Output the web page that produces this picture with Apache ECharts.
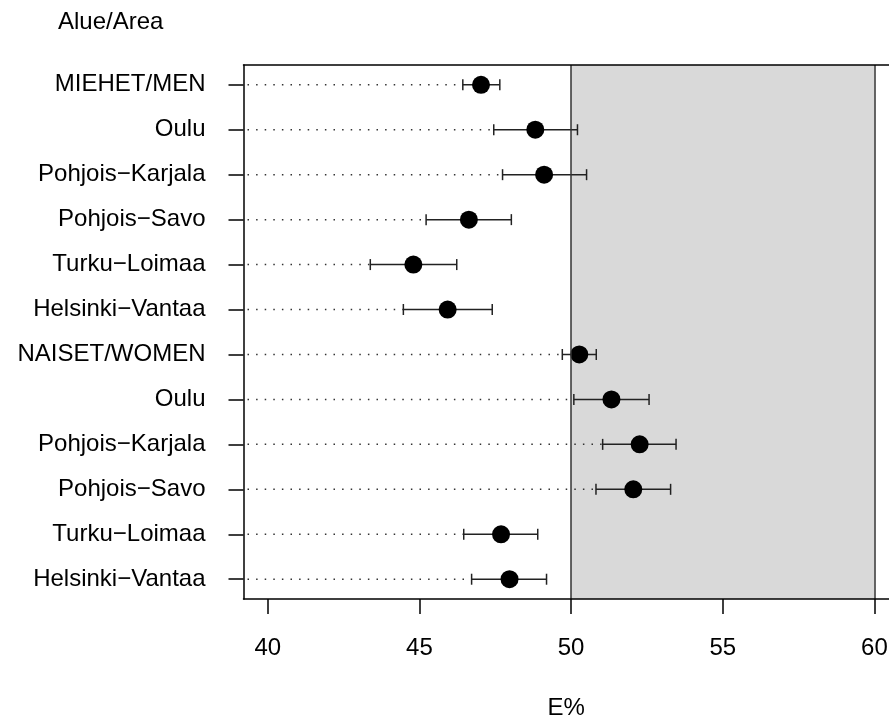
<!DOCTYPE html>
<html>
<head>
<meta charset="utf-8">
<script src="https://cdn.jsdelivr.net/npm/echarts@6/dist/echarts.min.js"></script>
<style>
  html, body { margin: 0; padding: 0; background: #fff; }
  #chart { width: 889px; height: 717px; }
</style>
</head>
<body>
<div id="chart"></div>
<script>
// ---- data ----
const labels = ["MIEHET/MEN", "Oulu", "Pohjois\u2212Karjala", "Pohjois\u2212Savo", "Turku\u2212Loimaa", "Helsinki\u2212Vantaa",
                "NAISET/WOMEN", "Oulu", "Pohjois\u2212Karjala", "Pohjois\u2212Savo", "Turku\u2212Loimaa", "Helsinki\u2212Vantaa"];
const estimate = [47.03, 48.82, 49.11, 46.63, 44.80, 45.93, 50.27, 51.33, 52.26, 52.05, 47.69, 47.97];
const lower    = [46.43, 47.45, 47.74, 45.22, 43.38, 44.47, 49.71, 50.09, 51.04, 50.82, 46.46, 46.72];
const upper    = [47.65, 50.21, 50.51, 48.03, 46.23, 47.40, 50.83, 52.57, 53.46, 53.28, 48.90, 49.19];
const xTicks = [40, 45, 50, 55, 60];
const refBand = [50, 60];
const xRange = [39.2, 60.48];   // visible part of the x range (plot box runs past the right edge)
const yRange = [0.56, 12.44];
const rows = labels.map((_, i) => i + 1);

const FONT = "'Liberation Sans', Arial, Helvetica, sans-serif";

const chart = echarts.init(document.getElementById('chart'), null, { renderer: 'canvas' });

const dottedData = rows.map((r, i) => [xRange[0], lower[i], r]);
const errData = rows.map((r, i) => [lower[i], upper[i], r]);
const pointData = rows.map((r, i) => [estimate[i], r]);

const option = {
  animation: false,
  backgroundColor: '#ffffff',
  textStyle: { fontFamily: FONT },
  title: {
    text: 'Alue/Area',
    left: 58, top: 10, padding: 0,
    textStyle: { fontFamily: FONT, fontSize: 24, fontWeight: 'normal', color: '#000' }
  },
  grid: { left: 243.5, top: 65, right: 0, height: 534, containLabel: false, outerBoundsMode: 'none' },
  xAxis: [{
    type: 'value', min: xRange[0], max: xRange[1], z: 5,
    axisLine: { show: true, lineStyle: { color: '#000', width: 1.5 } },
    axisTick: { show: true, length: 15, customValues: xTicks, lineStyle: { color: '#000', width: 1.5 } },
    axisLabel: { show: true, customValues: xTicks, margin: 37, fontSize: 24, color: '#000', fontFamily: FONT, showMaxLabel: true },
    splitLine: { show: false },
    name: 'E%', nameLocation: 'middle', nameGap: 97,
    nameTextStyle: { fontSize: 24, color: '#000', fontFamily: FONT, padding: [0, 0, 0, 0] }
  }, {
    type: 'value', position: 'top', min: xRange[0], max: xRange[1], z: 5,
    axisLine: { show: true, onZero: false, lineStyle: { color: '#000', width: 1.5 } },
    axisTick: { show: false }, axisLabel: { show: false }, splitLine: { show: false }
  }],
  yAxis: [{
    type: 'value', inverse: true, min: yRange[0], max: yRange[1], z: 5,
    axisLine: { show: true, onZero: false, lineStyle: { color: '#000', width: 1.5 } },
    axisTick: { show: true, length: 15, customValues: rows, lineStyle: { color: '#000', width: 1.5 } },
    axisLabel: {
      show: true, customValues: rows, margin: 38, fontSize: 24, color: '#000', fontFamily: FONT,
      formatter: v => labels[Math.round(v) - 1]
    },
    splitLine: { show: false }
  }],
  series: [
    {
      type: 'scatter', name: 'band', data: [], z: 1, silent: true,
      markArea: {
        silent: true,
        itemStyle: { color: '#D9D9D9' },
        data: [[{ xAxis: refBand[0] }, { xAxis: refBand[1] }]]
      },
      markLine: {
        silent: true, symbol: 'none',
        label: { show: false },
        lineStyle: { color: '#333', width: 1.5, type: 'solid' },
        data: refBand.map(v => ({ xAxis: v }))
      }
    },
    {
      type: 'custom', name: 'dotted', z: 2, silent: true,
      data: dottedData,
      encode: { x: [0, 1], y: 2 },
      renderItem: (params, api) => {
        const a = api.coord([api.value(0), api.value(2)]);
        const b = api.coord([api.value(1), api.value(2)]);
        return {
          type: 'line',
          shape: { x1: a[0] + 4, y1: a[1], x2: b[0], y2: b[1] },
          style: { stroke: '#333', lineWidth: 1.5, lineDash: [1.5, 7.1] }
        };
      }
    },
    {
      type: 'custom', name: 'ci', z: 3, silent: true,
      data: errData,
      encode: { x: [0, 1], y: 2 },
      renderItem: (params, api) => {
        const a = api.coord([api.value(0), api.value(2)]);
        const b = api.coord([api.value(1), api.value(2)]);
        const h = 5.5;
        const st = { stroke: '#222', lineWidth: 1.5 };
        return {
          type: 'group',
          children: [
            { type: 'line', shape: { x1: a[0], y1: a[1], x2: b[0], y2: b[1] }, style: st },
            { type: 'line', shape: { x1: a[0], y1: a[1] - h, x2: a[0], y2: a[1] + h }, style: st },
            { type: 'line', shape: { x1: b[0], y1: b[1] - h, x2: b[0], y2: b[1] + h }, style: st }
          ]
        };
      }
    },
    {
      type: 'scatter', name: 'estimate', z: 4, silent: true,
      data: pointData,
      symbol: 'circle', symbolSize: 18,
      itemStyle: { color: '#000', opacity: 1 }
    }
  ]
};

chart.setOption(option);
</script>
</body>
</html>
